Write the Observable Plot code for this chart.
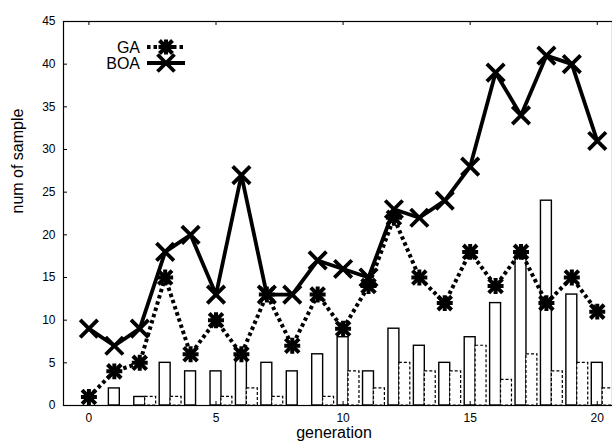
<!DOCTYPE html>
<html><head><meta charset="utf-8">
<script src="https://cdn.jsdelivr.net/npm/d3@7"></script>
<script src="https://cdn.jsdelivr.net/npm/@observablehq/plot@0.6"></script>
<style>
html,body{margin:0;padding:0;background:#fff;overflow:hidden}
#wrap{position:relative;width:612px;height:446px;font-family:"Liberation Sans",Arial,sans-serif}
#legend{position:absolute;left:0;top:0;pointer-events:none}
</style></head><body><div id="wrap"></div>
<script>
const generation = [0,1,2,3,4,5,6,7,8,9,10,11,12,13,14,15,16,17,18,19,20];
const gaLine  = [1,4,5,15,6,10,6,13,7,13,9,14,22,15,12,18,14,18,12,15,11];
const boaLine = [9,7,9,18,20,13,27,13,13,17,16,15,23,22,24,28,39,34,41,40,31];
const solidBars  = [0,2,1,5,4,4,6,5,4,6,8,4,9,7,5,8,12,18,24,13,5];
const dashedBars = [0,0,1,1,0,1,2,1,0,1,4,2,5,4,4,7,3,6,4,5,2];
const xTicks = [0,5,10,15,20];
const yTicks = [0,5,10,15,20,25,30,35,40,45];
const seriesNames = ["GA","BOA"];
const xLabel = "generation";
const yLabel = "num of sample";

const rows = generation.map((g,i)=>({g, ga:gaLine[i], boa:boaLine[i], solid:solidBars[i], dashed:dashedBars[i]}));
const barW = 0.43;
const plotW = 612-63, plotH = 446-21-41;

const chart = Plot.plot({
  width:612, height:446, marginTop:21, marginBottom:41, marginLeft:63, marginRight:0,
  style:{fontFamily:"Liberation Sans, Arial, sans-serif", fontSize:"12px", color:"#000", background:"#fff"},
  x:{domain:[-1,20.6]},
  y:{domain:[0,45]},
  marks:[
    Plot.rect(rows.filter(d=>d.solid>0),{x1:d=>d.g-barW/2,x2:d=>d.g+barW/2,y1:0,y2:"solid",fill:"white",stroke:"black",strokeWidth:1.4}),
    Plot.rect(rows.filter(d=>d.dashed>0),{x1:d=>d.g+barW/2,x2:d=>d.g+barW*1.5,y1:0,y2:"dashed",fill:"white",stroke:"black",strokeWidth:1.2,strokeDasharray:"3,2"}),
    Plot.ruleX(xTicks,{x:d=>d,insetTop:plotH-4,stroke:"black"}),
    Plot.ruleX(xTicks,{x:d=>d,insetBottom:plotH-4,stroke:"black"}),
    Plot.ruleY(yTicks,{y:d=>d,insetRight:plotW-4,stroke:"black"}),
    Plot.axisX({ticks:xTicks,tickSize:0,tickPadding:8,label:null}),
    Plot.axisY({ticks:yTicks,tickSize:0,tickPadding:8,label:null}),
    Plot.line(rows,{x:"g",y:"ga",stroke:"black",strokeWidth:4,strokeDasharray:"3.5,3",strokeLinecap:"butt",strokeLinejoin:"miter"}),
    Plot.line(rows,{x:"g",y:"boa",stroke:"black",strokeWidth:3.8}),
    Plot.dot(rows,{x:"g",y:"ga",r:3.5,fill:"black"}),
    Plot.dot(rows,{x:"g",y:"ga",symbol:"times",r:6.3,stroke:"black",strokeWidth:4}),
    Plot.dot(rows,{x:"g",y:"ga",symbol:"plus",r:5.2,stroke:"black",strokeWidth:4}),
    Plot.dot(rows,{x:"g",y:"boa",symbol:"times",r:8,stroke:"black",strokeWidth:3.8}),
    Plot.text([yLabel],{frameAnchor:"left",rotate:-90,dx:-46,fontSize:16}),
    Plot.text([xLabel],{frameAnchor:"bottom",dy:32,dx:-4,fontSize:16}),
    Plot.frame({stroke:"black",strokeWidth:1.2})
  ]
});
const wrap = document.getElementById("wrap");
wrap.appendChild(chart);

// legend overlay
const ns = "http://www.w3.org/2000/svg";
const lg = document.createElementNS(ns,"svg");
lg.setAttribute("id","legend"); lg.setAttribute("width",612); lg.setAttribute("height",446);
const items = [
  {name:seriesNames[0], y:47, dash:"3.5,3", sw:4, ga:true},
  {name:seriesNames[1], y:63, dash:null, sw:3.8, ga:false}
];
items.forEach(it=>{
  const t = document.createElementNS(ns,"text");
  t.setAttribute("x",140); t.setAttribute("y",it.y); t.setAttribute("text-anchor","end");
  t.setAttribute("dominant-baseline","central"); t.setAttribute("font-size","16");
  t.setAttribute("font-family","Liberation Sans, Arial, sans-serif");
  t.textContent = it.name; lg.appendChild(t);
  const l = document.createElementNS(ns,"line");
  l.setAttribute("x1",147); l.setAttribute("x2",185); l.setAttribute("y1",it.y); l.setAttribute("y2",it.y);
  l.setAttribute("stroke","black"); l.setAttribute("stroke-width",it.sw);
  if (it.dash) l.setAttribute("stroke-dasharray",it.dash);
  lg.appendChild(l);
  const p = document.createElementNS(ns,"path");
  const s = it.ga ? 6.5 : 8.5;
  let d = `M${166-s},${it.y-s}L${166+s},${it.y+s}M${166-s},${it.y+s}L${166+s},${it.y-s}`;
  if (it.ga) d += `M${166-7.5},${it.y}L${166+7.5},${it.y}M166,${it.y-7.5}L166,${it.y+7.5}`;
  p.setAttribute("d",d); p.setAttribute("stroke","black"); p.setAttribute("stroke-width",it.sw); p.setAttribute("fill","none");
  lg.appendChild(p);
  if (it.ga){ const c=document.createElementNS(ns,"circle"); c.setAttribute("cx",166); c.setAttribute("cy",it.y); c.setAttribute("r",3.5); lg.appendChild(c); }
});
wrap.appendChild(lg);
</script></body></html>
